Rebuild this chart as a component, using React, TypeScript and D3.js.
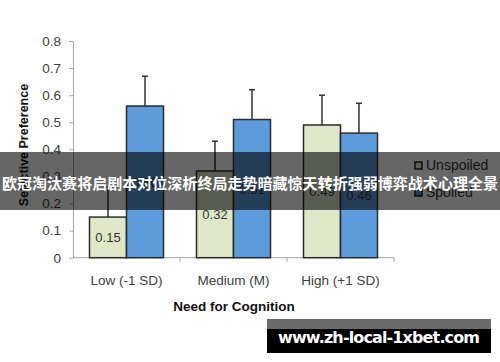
import { useEffect, useRef } from "react";
import * as d3 from "d3";

// chart data
const categories = ["Low (-1 SD)", "Medium (M)", "High (+1 SD)"];
const seriesNames = ["Unspoiled", "Spoiled"];
const unspoiled = [0.15, 0.32, 0.49];
const spoiled = [0.56, 0.51, 0.46];
const unspoiledErr = [0.11, 0.11, 0.11];
const spoiledErr = [0.11, 0.11, 0.11];
const yTicks = [0, 0.1, 0.2, 0.3, 0.4, 0.5, 0.6, 0.7, 0.8];

const bannerText = "欧冠淘汰赛将启剧本对位深析终局走势暗藏惊天转折强弱博弈战术心理全景";
const watermark = "www.zh-local-1xbet.com";

const width = 500;
const height = 362;
const colors = ["#dfe7c8", "#5e9bdb"];
const font = "'Liberation Sans', Arial, sans-serif";

const drawChart = (node: SVGSVGElement) => {
    const svg = d3.select(node);
    svg.selectAll("*").remove();

    const x = d3.scaleBand().domain(categories).range([73, 394]).paddingInner(0).paddingOuter(0);
    const inner = d3.scaleBand().domain(seriesNames).range([0, x.bandwidth()]).paddingInner(0).paddingOuter(0.446);
    const y = d3.scaleLinear().domain([0, 0.8]).range([257.7, 41]);

    // y axis
    const yAxis = svg.append("g")
        .attr("transform", "translate(73,0)")
        .call(d3.axisLeft(y).tickValues(yTicks).tickSize(4).tickSizeOuter(0)
            .tickFormat(d => (d === 0 ? "0" : d3.format(".1f")(d as number))));
    yAxis.select(".domain").attr("stroke", "#a6a6a6");
    yAxis.selectAll(".tick line").attr("stroke", "#a6a6a6");
    yAxis.selectAll(".tick text")
        .attr("x", -12)
        .attr("fill", "#404040")
        .style("font-family", font)
        .style("font-size", "13.5px");

    // x axis line with ticks at band boundaries
    const xg = svg.append("g");
    xg.append("line")
        .attr("x1", 73).attr("x2", 394)
        .attr("y1", y(0)).attr("y2", y(0))
        .attr("stroke", "#a6a6a6");
    const bounds = categories.map(c => (x(c) as number) + x.bandwidth()).slice();
    xg.selectAll("line.tk")
        .data(bounds)
        .join("line")
        .attr("class", "tk")
        .attr("x1", d => d).attr("x2", d => d)
        .attr("y1", y(0)).attr("y2", y(0) + 4)
        .attr("stroke", "#a6a6a6");
    xg.selectAll("text")
        .data(categories)
        .join("text")
        .attr("x", d => (x(d) as number) + x.bandwidth() / 2)
        .attr("y", 285)
        .attr("text-anchor", "middle")
        .attr("fill", "#404040")
        .style("font-family", font)
        .style("font-size", "13.5px")
        .text(d => d);

    // bars
    const rows = categories.flatMap((c, i) => [
        { cat: c, s: 0, v: unspoiled[i], e: unspoiledErr[i] },
        { cat: c, s: 1, v: spoiled[i], e: spoiledErr[i] },
    ]);
    const bx = (d: { cat: string; s: number }) => (x(d.cat) as number) + (inner(seriesNames[d.s]) as number);

    // error bars behind bars
    const eg = svg.append("g").attr("stroke", "#333").attr("stroke-width", 1.5);
    eg.selectAll("line.v")
        .data(rows)
        .join("line")
        .attr("class", "v")
        .attr("x1", d => bx(d) + inner.bandwidth() / 2)
        .attr("x2", d => bx(d) + inner.bandwidth() / 2)
        .attr("y1", d => y(d.v))
        .attr("y2", d => y(d.v + d.e));
    eg.selectAll("line.c")
        .data(rows)
        .join("line")
        .attr("class", "c")
        .attr("x1", d => bx(d) + inner.bandwidth() / 2 - 3)
        .attr("x2", d => bx(d) + inner.bandwidth() / 2 + 3)
        .attr("y1", d => y(d.v + d.e))
        .attr("y2", d => y(d.v + d.e));

    svg.append("g").selectAll("rect")
        .data(rows)
        .join("rect")
        .attr("x", d => bx(d))
        .attr("y", d => y(d.v))
        .attr("width", inner.bandwidth())
        .attr("height", d => y(0) - y(d.v))
        .attr("fill", d => colors[d.s])
        .attr("stroke", "#2b2b2b")
        .attr("stroke-width", 1.5);

    // value labels in the middle of each bar
    svg.append("g").selectAll("text")
        .data(rows)
        .join("text")
        .attr("x", d => bx(d) + inner.bandwidth() / 2)
        .attr("y", d => (y(d.v) + y(0)) / 2 + 5)
        .attr("text-anchor", "middle")
        .attr("fill", "#333")
        .style("font-family", font)
        .style("font-size", "13px")
        .text(d => d3.format(".2f")(d.v));

    // axis titles
    svg.append("text")
        .attr("x", 234)
        .attr("y", 311)
        .attr("text-anchor", "middle")
        .attr("fill", "#111")
        .style("font-family", font)
        .style("font-size", "13.5px")
        .style("font-weight", "bold")
        .text("Need for Cognition");
    svg.append("text")
        .attr("transform", "translate(28,145) rotate(-90)")
        .attr("text-anchor", "middle")
        .attr("fill", "#111")
        .style("font-family", font)
        .style("font-size", "12.5px")
        .style("font-weight", "bold")
        .text("Selective Preference");

    // legend
    const lg = svg.append("g").selectAll("g")
        .data(seriesNames)
        .join("g")
        .attr("transform", (d, i) => `translate(415,${162 + i * 27})`);
    lg.append("rect")
        .attr("width", 7).attr("height", 7)
        .attr("fill", (d, i) => colors[i])
        .attr("stroke", "#222")
        .attr("stroke-width", 1.5);
    lg.append("text")
        .attr("x", 11)
        .attr("y", 8)
        .attr("fill", "#333")
        .style("font-family", font)
        .style("font-size", "14px")
        .text(d => d);

    // overlay banner
    svg.append("rect")
        .attr("x", 0).attr("y", 152)
        .attr("width", width).attr("height", 58)
        .attr("fill", "rgba(0,0,0,0.6)");
    svg.append("text")
        .attr("x", width / 2)
        .attr("y", 189)
        .attr("text-anchor", "middle")
        .attr("fill", "#fff")
        .attr("textLength", 496)
        .style("font-family", "'Noto Sans CJK SC', sans-serif")
        .style("font-size", "15px")
        .style("font-weight", "bold")
        .text(bannerText);

    // watermark box
    svg.append("rect")
        .attr("x", 267).attr("y", 319)
        .attr("width", 224).attr("height", 10)
        .attr("fill", "#6b6b6b");
    svg.append("rect")
        .attr("x", 267).attr("y", 329)
        .attr("width", 224).attr("height", 24)
        .attr("fill", "#000");
    svg.append("text")
        .attr("x", 379)
        .attr("y", 343)
        .attr("text-anchor", "middle")
        .attr("fill", "#fff")
        .attr("textLength", 202)
        .style("font-family", "'DejaVu Sans', sans-serif")
        .style("font-size", "16px")
        .style("font-weight", "bold")
        .text(watermark);
};

export default function App() {
    const ref = useRef<SVGSVGElement>(null);

    useEffect(() => {
        if (ref.current) drawChart(ref.current);
    }, []);

    return (
        <svg
            ref={ref}
            width={width}
            height={height}
            style={{ position: "absolute", left: 0, top: 0, background: "#fff" }}
        />
    );
}
